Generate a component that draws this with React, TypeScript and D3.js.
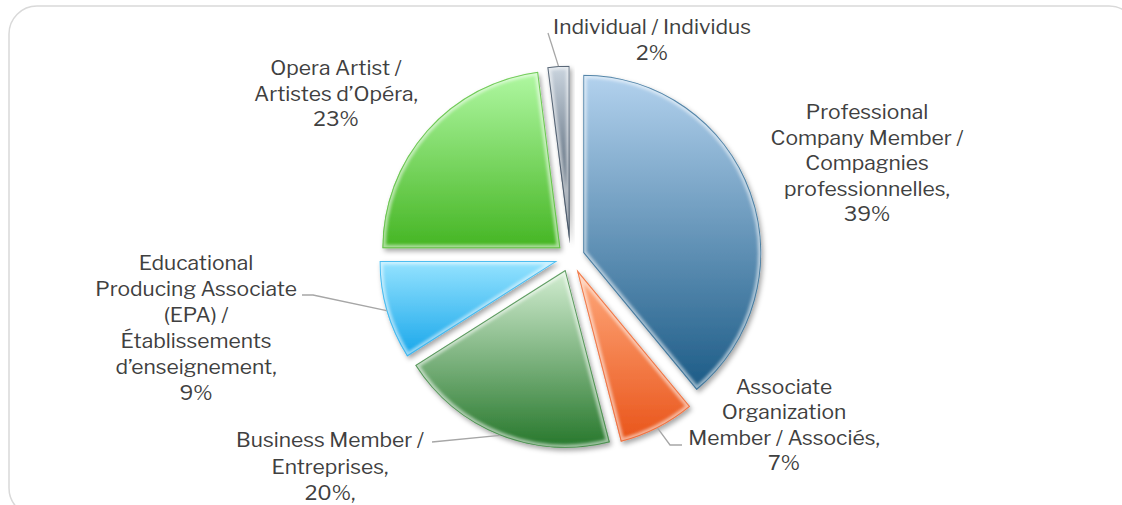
import React from "react";
import * as d3 from "d3";

// ---- data ----
const categories = [
  "Professional Company Member / Compagnies professionnelles",
  "Associate Organization Member / Associés",
  "Business Member / Entreprises",
  "Educational Producing Associate (EPA) / Établissements d’enseignement",
  "Opera Artist / Artistes d’Opéra",
  "Individual / Individus",
];
const values = [39, 7, 20, 9, 23, 2];
const labelLines = [
  ["Professional", "Company Member /", "Compagnies", "professionnelles,", "39%"],
  ["Associate", "Organization", "Member / Associés,", "7%"],
  ["Business Member /", "Entreprises,", "20%,"],
  ["Educational", "Producing Associate", "(EPA) /", "Établissements", "d’enseignement,", "9%"],
  ["Opera Artist /", "Artistes d’Opéra,", "23%"],
  ["Individual / Individus", "2%"],
];
const colorTop = ["#b3d2ee", "#ffab7e", "#d3eed2", "#95e3ff", "#b0f8a2", "#cbd5df"];
const colorBottom = ["#1c5b86", "#e9541a", "#26772b", "#17a6ea", "#45b523", "#1e3145"];

// ---- layout ----
const W = 1122, H = 505;
const CX = 570.5, CY = 257.3, R = 178, EXPLODE = 13.5;
const FONT = "'Libre Franklin', 'Open Sans', sans-serif";
const FS = 21;
const labelPos = [
  { x: 867, y: 112, dy: 25.6 },
  { x: 784, y: 387, dy: 25.3 },
  { x: 330, y: 440, dy: 26.5 },
  { x: 196, y: 263, dy: 26 },
  { x: 336, y: 68, dy: 25.5 },
  { x: 652, y: 27, dy: 26 },
];
// leader line start points near labels (null = no leader)
const leaderStart: (number[][] | null)[] = [
  null,
  [[682, 445], [670, 445]],
  [[432, 442]],
  [[302, 295], [313, 295]],
  null,
  [[548, 33]],
];

export default function App() {
  const pie = d3.pie<number>().sort(null).value((d) => d)(values);
  const arc = d3.arc<d3.PieArcDatum<number>>().innerRadius(0).outerRadius(R);
  const slices = pie.map((p, i) => {
    const mid = (p.startAngle + p.endAngle) / 2;
    const tx = CX + Math.sin(mid) * EXPLODE;
    const ty = CY - Math.cos(mid) * EXPLODE;
    return { p, i, mid, tx, ty, d: arc(p) as string };
  });

  return (
    <svg width={W} height={H} style={{ display: "block", position: "absolute", left: 0, top: 0 }}>
      <defs>
        {slices.map((s) => (
          <linearGradient key={s.i} id={`g${s.i}`} x1="0" y1="0" x2="0" y2="1">
            <stop offset="0%" stopColor={colorTop[s.i]} />
            <stop offset="100%" stopColor={colorBottom[s.i]} />
          </linearGradient>
        ))}
        {slices.map((s) => (
          <clipPath key={s.i} id={`c${s.i}`}>
            <path d={s.d} />
          </clipPath>
        ))}
        <filter id="shadow" x="-20%" y="-20%" width="140%" height="140%">
          <feDropShadow dx="2" dy="3" stdDeviation="2.5" floodColor="#000" floodOpacity="0.35" />
        </filter>
        <filter id="blur" x="-10%" y="-10%" width="120%" height="120%">
          <feGaussianBlur stdDeviation="1.6" />
        </filter>
      </defs>
      <rect x={9} y={6} width={1128} height={510} rx={28} ry={28} fill="#fff" stroke="#d9d9d9" strokeWidth={1.5} />
      {slices.map((s) => (
        <g key={s.i} transform={`translate(${s.tx},${s.ty})`}>
          <path d={s.d} fill={`url(#g${s.i})`} filter="url(#shadow)" />
          <g clipPath={`url(#c${s.i})`}>
            <path d={s.d} fill="none" stroke="#ffffff" strokeOpacity={0.55} strokeWidth={7} filter="url(#blur)" />
            <path d={s.d} fill="none" stroke={colorBottom[s.i]} strokeOpacity={0.7} strokeWidth={2} />
          </g>
        </g>
      ))}
      {slices.map((s) => {
        const st = leaderStart[s.i];
        if (!st) return null;
        const ex = s.tx + Math.sin(s.mid) * R;
        const ey = s.ty - Math.cos(s.mid) * R;
        const pts = [...st, [ex, ey]];
        return (
          <polyline key={s.i} points={pts.map((p) => p.join(",")).join(" ")} fill="none" stroke="#a6a6a6" strokeWidth={1.3} />
        );
      })}
      {labelLines.map((lines, i) => (
        <text key={i} fontFamily={FONT} fontSize={FS} fill="#404040" textAnchor="middle">
          {lines.map((l, j) => (
            <tspan key={j} x={labelPos[i].x} y={labelPos[i].y + j * labelPos[i].dy + 7}>
              {l}
            </tspan>
          ))}
        </text>
      ))}
    </svg>
  );
}
